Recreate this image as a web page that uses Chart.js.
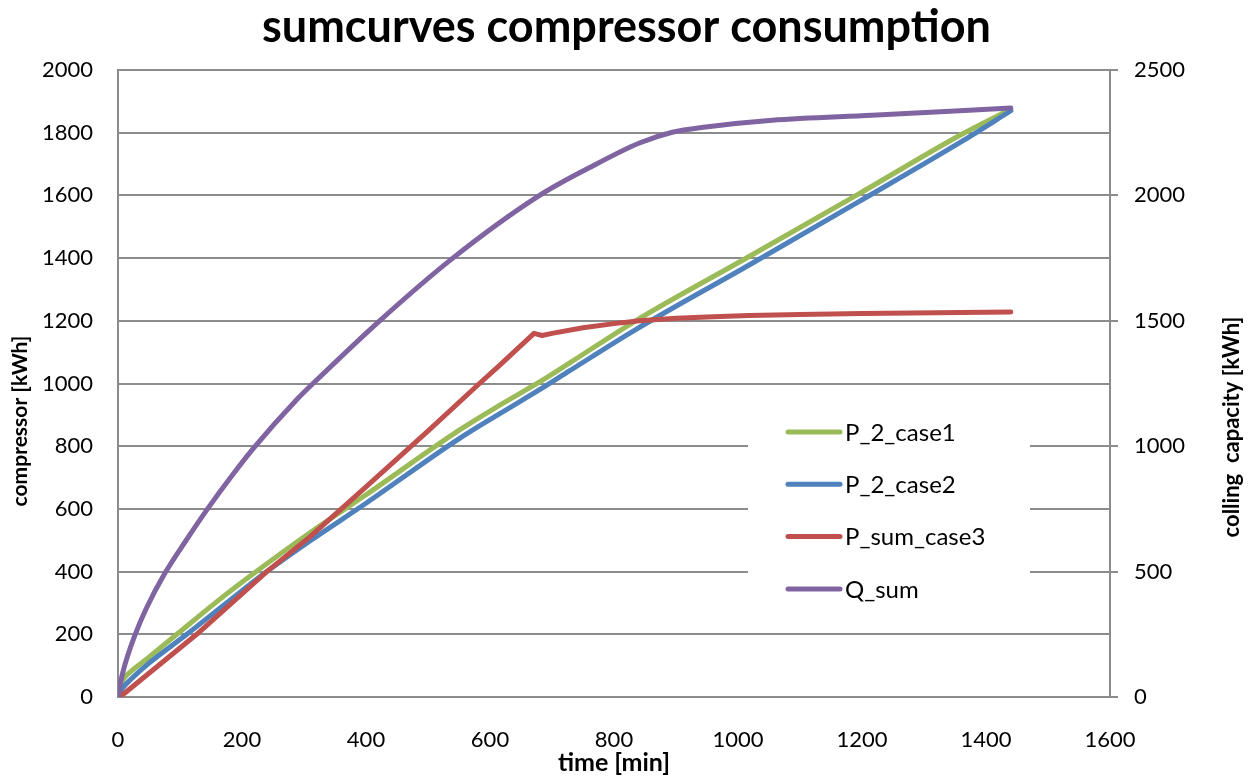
<!DOCTYPE html>
<html>
<head>
<meta charset="utf-8">
<script src="https://cdn.jsdelivr.net/npm/chart.js@4/dist/chart.umd.min.js"></script>
<style>
  html, body { margin: 0; padding: 0; background: #fff; }
  #wrap { width: 1253px; height: 782px; }
</style>
</head>
<body>
<div id="wrap"><canvas id="sumcurves" width="1253" height="782"></canvas></div>
<script>
// time [min] and values
var tCase1 = [0, 4, 8, 20, 50, 95, 160, 223, 309, 400, 551, 615, 684, 728, 835, 1018, 1195, 1361, 1440];
var pCase1 = [0, 35, 55, 80, 127, 200, 305, 400, 523, 645, 852, 930, 1010, 1065, 1200, 1405, 1605, 1795, 1875];

var tCase2 = [0, 4, 8, 20, 50, 111, 175, 240, 309, 400, 551, 615, 684, 728, 835, 1018, 1195, 1361, 1440];
var pCase2 = [0, 18, 30, 55, 108, 200, 300, 400, 497, 618, 825, 903, 985, 1040, 1172, 1378, 1580, 1772, 1870];

var tCase3 = [0, 8, 127, 240, 309, 400, 502, 583, 615, 671, 684, 700, 750, 800, 841, 900, 960, 1018, 1100, 1200, 1320, 1440];
var pCase3 = [0, 8, 200, 400, 510, 670, 852, 1000, 1057, 1160, 1153, 1160, 1178, 1191, 1200, 1208, 1213, 1217, 1220, 1223, 1226, 1228];

var tQsum = [0, 3, 8, 15, 27, 45, 76, 110, 143, 180, 218, 290, 318, 422, 540, 680, 760, 841, 894, 948, 1055, 1216, 1440];
var qSum = [0, 45, 100, 160, 245, 350, 495, 625, 745, 870, 990, 1190, 1258, 1500, 1750, 2000, 2110, 2209, 2252, 2273, 2300, 2320, 2348];

var seriesNames = ["P_2_case1", "P_2_case2", "P_sum_case3", "Q_sum"];
var seriesColors = ["#9BBB59", "#4F81BD", "#C0504D", "#8064A2"];

var FONT = "Lato, 'Open Sans', sans-serif";
var GRID = "#8c8c8c";

function pairs(xs, ys) {
    var out = [];
    for (var i = 0; i < xs.length; i++) out.push({ x: xs[i], y: ys[i] });
    return out;
}

function lineSet(idx, data, axis, order, smooth) {
    var ds = {
        label: seriesNames[idx],
        data: data,
        yAxisID: axis,
        borderColor: seriesColors[idx],
        backgroundColor: seriesColors[idx],
        borderWidth: 5,
        pointRadius: 0,
        borderCapStyle: "round",
        borderJoinStyle: "round",
        fill: false,
        order: order
    };
    if (smooth) ds.cubicInterpolationMode = "monotone";
    else ds.tension = 0;
    return ds;
}

function plainTick(v) { return String(v); }

// y titles (both read bottom-to-top) and the legend inside the plot
var extras = {
    id: "extras",
    afterDatasetsDraw: function (chart) {
        var ctx = chart.ctx;
        var a = chart.chartArea;
        var bx = a.left + 630, by = a.top + 335;
        ctx.save();
        ctx.fillStyle = "#fff";
        ctx.fillRect(bx, by, 282, 205);
        ctx.font = "24px " + FONT;
        ctx.textBaseline = "middle";
        ctx.lineCap = "round";
        chart.data.datasets.forEach(function (ds, i) {
            var y = by + 27 + i * 52.3;
            ctx.strokeStyle = ds.borderColor;
            ctx.lineWidth = 5;
            ctx.beginPath();
            ctx.moveTo(bx + 40, y);
            ctx.lineTo(bx + 92, y);
            ctx.stroke();
            ctx.fillStyle = "#000";
            ctx.fillText(ds.label, bx + 97, y + 1);
        });
        ctx.restore();
    },
    afterDraw: function (chart) {
        var ctx = chart.ctx;
        var titles = [["compressor [kWh]", 20, 421, 21], ["colling  capacity [kWh]", 1232, 427, 22]];
        titles.forEach(function (t) {
            ctx.save();
            ctx.fillStyle = "#000";
            ctx.font = "bold " + t[3] + "px " + FONT;
            ctx.textAlign = "center";
            ctx.textBaseline = "middle";
            ctx.translate(t[1], t[2]);
            ctx.rotate(-Math.PI / 2);
            ctx.fillText(t[0], 0, 0);
            ctx.restore();
        });
    }
};

var ctxSum = document.getElementById("sumcurves").getContext("2d");
new Chart(ctxSum, {
    type: "line",
    data: {
        datasets: [
            lineSet(0, pairs(tCase1, pCase1), "y", 3, true),
            lineSet(1, pairs(tCase2, pCase2), "y", 2, true),
            lineSet(2, pairs(tCase3, pCase3), "y", 1, false),
            lineSet(3, pairs(tQsum, qSum), "y1", 0, true)
        ]
    },
    options: {
        responsive: false,
        animation: false,
        layout: { padding: 0 },
        plugins: {
            legend: { display: false },
            tooltip: { enabled: false },
            title: {
                display: true,
                text: "sumcurves compressor consumption",
                color: "#000",
                font: { family: FONT, size: 45, weight: "bold" },
                padding: { top: 0, bottom: 16 }
            }
        },
        scales: {
            x: {
                type: "linear",
                min: 0,
                max: 1600,
                afterFit: function (s) { s.height = 85; },
                ticks: { stepSize: 200, color: "#000", padding: 22, callback: plainTick, font: { family: FONT, size: 22 }, maxRotation: 0 },
                grid: { display: false },
                border: { display: true, color: GRID, width: 2 },
                title: {
                    display: true,
                    text: "time [min]",
                    color: "#000",
                    font: { family: FONT, size: 25, weight: "bold" },
                    padding: { top: 0, bottom: 4 }
                }
            },
            y: {
                position: "left",
                min: 0,
                max: 2000,
                afterFit: function (s) { s.width = 118; },
                ticks: { stepSize: 200, color: "#000", padding: 25, callback: plainTick, font: { family: FONT, size: 22 } },
                grid: { color: GRID, lineWidth: 2, drawTicks: false },
                border: { display: true, color: GRID, width: 2 }
            },
            y1: {
                position: "right",
                min: 0,
                max: 2500,
                afterFit: function (s) { s.width = 143; },
                ticks: { stepSize: 500, color: "#000", padding: 16, callback: plainTick, font: { family: FONT, size: 22 } },
                grid: { drawOnChartArea: false, drawTicks: true, tickLength: 8, color: GRID, lineWidth: 2 },
                border: { display: true, color: GRID, width: 2 }
            }
        }
    },
    plugins: [extras]
});
</script>
</body>
</html>
